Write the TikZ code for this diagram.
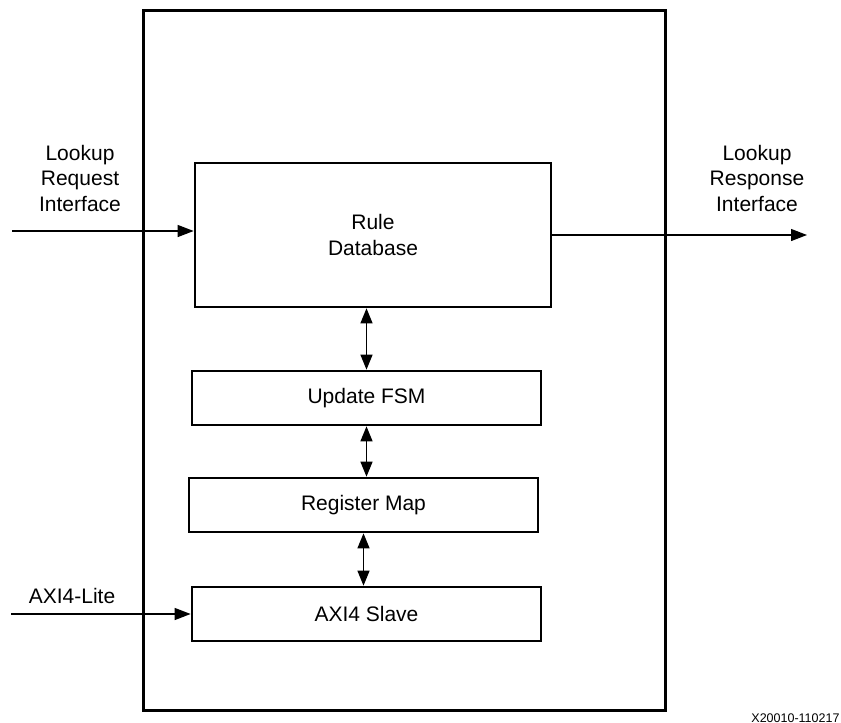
\documentclass[tikz,border=0pt]{standalone}
\usepackage{fontspec}
\setmainfont{Liberation Sans}
\usetikzlibrary{arrows.meta}

\begin{document}
\begin{tikzpicture}[x=1pt,y=-1pt,
    font=\fontsize{21}{25.5}\selectfont,
    block/.style={draw,line width=2.7pt,minimum width=349pt,minimum height=54pt,inner sep=0pt,align=center},
    sig/.style={line width=1.3pt,-{Triangle[length=16pt,width=12pt]}},
    bisig/.style={line width=1.3pt,{Triangle[length=15pt,width=12pt]}-{Triangle[length=15pt,width=12pt]}}]
  \useasboundingbox (0,0) rectangle (841,723);

  % core outline
  \node[draw,line width=3pt,minimum width=522pt,minimum height=700pt,inner sep=0pt] (core) at (404,360) {};

  \node[block,minimum width=356pt,minimum height=144pt] (rdb) at (373,235) {Rule\\Database};
  \node[block] (fsm) at (366.5,398) {Update FSM};
  \node[block] (regmap) at (363.5,505) {Register Map};
  \node[block] (axis) at (366.5,614) {AXI4 Slave};

  % ports
  \coordinate (reqin) at (12,231);
  \coordinate (respout) at (807,236);
  \coordinate (axiin) at (11,614);

  \node[align=center] (reqlbl) at (80,178) {Lookup\\Request\\Interface};
  \node[align=center] (resplbl) at (757,178) {Lookup\\Response\\Interface};
  \node[anchor=base] (axilbl) at (72,603) {AXI4-Lite};
  \node[anchor=base east,font=\fontsize{12.5}{15}\selectfont] (figid) at (843,722) {X20010-110217};

  \draw[sig] (reqin) -- (reqin -| rdb.west);
  \draw[sig] (rdb.east) -- (rdb.east -| respout);
  \draw[sig] (axiin) -- (axis.west);

  \draw[bisig] (fsm.north |- rdb.south) -- (fsm.north);
  \draw[bisig] (fsm.south) -- (fsm.south |- regmap.north);
  \draw[bisig] (regmap.south) -- (regmap.south |- axis.north);
\end{tikzpicture}
\end{document}
